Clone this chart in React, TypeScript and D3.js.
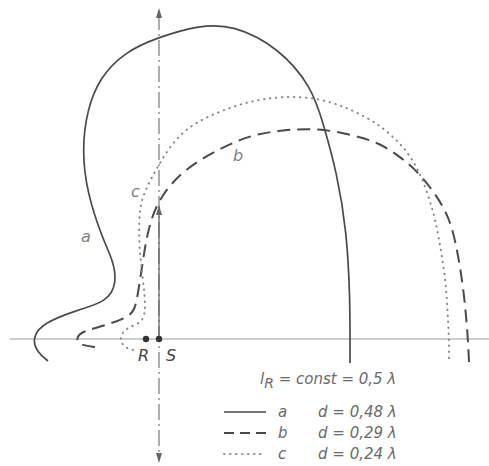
import { useRef, useEffect } from 'react';
import * as d3 from 'd3';

// curve points in units of the diagram (S at origin)
const curveA: [number, number][] = [
  [-1.11, -0.22], [-1.22, -0.13], [-1.27, 0.01], [-1.16, 0.16], [-0.82, 0.29],
  [-0.52, 0.37], [-0.42, 0.56], [-0.46, 0.79], [-0.56, 0.99], [-0.72, 1.46],
  [-0.77, 1.89], [-0.72, 2.29], [-0.59, 2.62], [-0.34, 2.87], [-0.03, 3.01],
  [0.41, 3.14], [0.74, 3.14], [1.19, 2.92], [1.53, 2.52], [1.64, 2.16],
  [1.78, 1.66], [1.88, 1.06], [1.91, 0.39], [1.91, 0], [1.91, -0.24],
];
const curveB: [number, number][] = [
  [-0.64, -0.08], [-0.79, -0.06], [-0.83, -0.01], [-0.79, 0.07], [-0.59, 0.12],
  [-0.32, 0.21], [-0.24, 0.29], [-0.21, 0.46], [-0.17, 0.72], [-0.14, 0.92],
  [-0.09, 1.17], [0.01, 1.42], [0.24, 1.69], [0.58, 1.89], [0.91, 2.04],
  [1.24, 2.09], [1.59, 2.11], [1.94, 2.04], [2.21, 1.96], [2.41, 1.82],
  [2.54, 1.72], [2.74, 1.49], [2.88, 1.26], [2.96, 1.02], [3.05, 0.49],
  [3.09, 0], [3.1, -0.23],
];
const curveC: [number, number][] = [
  [-0.26, -0.11], [-0.36, -0.08], [-0.4, 0.02], [-0.32, 0.12], [-0.16, 0.16],
  [-0.13, 0.32], [-0.16, 0.59], [-0.2, 0.92], [-0.2, 1.26], [-0.16, 1.44],
  [-0.07, 1.62], [0.04, 1.82], [0.24, 2.1], [0.58, 2.27], [0.91, 2.38],
  [1.24, 2.43], [1.61, 2.41], [1.94, 2.29], [2.21, 2.14], [2.41, 1.96],
  [2.54, 1.79], [2.64, 1.59], [2.74, 1.29], [2.79, 1.06], [2.87, 0.59],
  [2.89, 0.19], [2.9, 0], [2.9, -0.23],
];
const curveNames = ['a', 'b', 'c'];
const curveDistances = ['0,48', '0,29', '0,24'];
const pointNames = ['R', 'S'];
const pointPositions = [-0.13, 0];

function App() {
  const svgRef = useRef<SVGSVGElement>(null);

  useEffect(() => {
    const width = 489;
    const height = 466;
    const svg = d3.select(svgRef.current).attr('viewBox', [0, 0, width, height]);
    svg.selectAll('*').remove();

    // 1 unit = 100px, S sits at (159, 339)
    const x = d3.scaleLinear().domain([-1.59, 3.3]).range([0, 489]);
    const y = d3.scaleLinear().domain([-1.27, 3.39]).range([466, 0]);

    const font = '"DejaVu Sans", sans-serif';
    const textColor = '#6a6a6a';

    // horizontal axis
    svg.append('line')
      .attr('x1', 10).attr('x2', width)
      .attr('y1', y(0)).attr('y2', y(0))
      .attr('stroke', '#9a9a9a').attr('stroke-width', 1);

    // vertical axis, dash-dot with arrows at both ends
    svg.append('line')
      .attr('x1', x(0)).attr('x2', x(0))
      .attr('y1', 14).attr('y2', 458)
      .attr('stroke', '#777').attr('stroke-width', 1.2)
      .attr('stroke-dasharray', '16,4,2,4');
    svg.append('line')
      .attr('x1', x(0)).attr('x2', x(0))
      .attr('y1', y(1.32)).attr('y2', y(0))
      .attr('stroke', '#666').attr('stroke-width', 1.3);
    const arrow = (tipY: number, dir: number) => {
      svg.append('path')
        .attr('d', `M${x(0)},${tipY} L${x(0) - 3},${tipY + dir * 10} L${x(0) + 3},${tipY + dir * 10} Z`)
        .attr('fill', '#666');
    };
    arrow(8, 1);
    arrow(463, -1);
    arrow(y(1.34), 1);

    // smoothing spline through the read-off points
    const line = d3.line<[number, number]>()
      .x(d => x(d[0]))
      .y(d => y(d[1]))
      .curve(d3.curveBasis);

    const styles = [
      { stroke: '#4a4a4a', width: 1.7, dash: null as string | null, cap: 'butt' },
      { stroke: '#4a4a4a', width: 2, dash: '13,7', cap: 'butt' },
      { stroke: '#8a8a8a', width: 2, dash: '0.5,5.5', cap: 'round' },
    ];
    [curveA, curveB, curveC].forEach((pts, i) => {
      svg.append('path')
        .datum(pts)
        .attr('d', line)
        .attr('fill', 'none')
        .attr('stroke', styles[i].stroke)
        .attr('stroke-width', styles[i].width)
        .attr('stroke-linecap', styles[i].cap)
        .attr('stroke-dasharray', styles[i].dash);
    });

    // curve labels
    const labelPos: [number, number][] = [[-0.78, 0.97], [0.74, 1.78], [-0.28, 1.42]];
    curveNames.forEach((n, i) => {
      svg.append('text')
        .attr('x', x(labelPos[i][0])).attr('y', y(labelPos[i][1]))
        .attr('font-family', font).attr('font-style', 'italic')
        .attr('font-size', 16).attr('fill', '#808080')
        .text(n);
    });

    // R and S points
    pointNames.forEach((n, i) => {
      svg.append('circle')
        .attr('cx', x(pointPositions[i])).attr('cy', y(0))
        .attr('r', 3.2).attr('fill', '#333');
      svg.append('text')
        .attr('x', x(pointPositions[i]) + (i === 0 ? -8 : 7)).attr('y', y(0) + 22)
        .attr('font-family', font).attr('font-style', 'italic')
        .attr('font-size', 16).attr('fill', '#444')
        .text(n);
    });

    // legend
    const title = svg.append('text')
      .attr('x', 260).attr('y', 384)
      .attr('font-family', font).attr('font-style', 'italic')
      .attr('font-size', 15).attr('fill', textColor);
    title.append('tspan').text('l');
    title.append('tspan').attr('dy', 4).attr('font-size', 14).text('R');
    title.append('tspan').attr('dy', -4).text(' = const = 0,5 λ');

    curveNames.forEach((n, i) => {
      const ry = 412 + i * 21;
      svg.append('line')
        .attr('x1', 224).attr('x2', 266)
        .attr('y1', ry).attr('y2', ry)
        .attr('stroke', styles[i].stroke)
        .attr('stroke-width', styles[i].width)
        .attr('stroke-linecap', styles[i].cap)
        .attr('stroke-dasharray', i === 1 ? '10,6' : styles[i].dash);
      svg.append('text')
        .attr('x', 278).attr('y', ry + 5)
        .attr('font-family', font).attr('font-style', 'italic')
        .attr('font-size', 15).attr('fill', textColor)
        .text(n);
      svg.append('text')
        .attr('x', 318).attr('y', ry + 5)
        .attr('font-family', font).attr('font-style', 'italic')
        .attr('font-size', 15).attr('fill', textColor)
        .text(`d = ${curveDistances[i]} λ`);
    });
  }, []);

  return (
    <svg
      ref={svgRef}
      width={489}
      height={466}
      style={{ position: 'absolute', left: 0, top: 0, background: '#fff' }}
    />
  );
}

export default App;
